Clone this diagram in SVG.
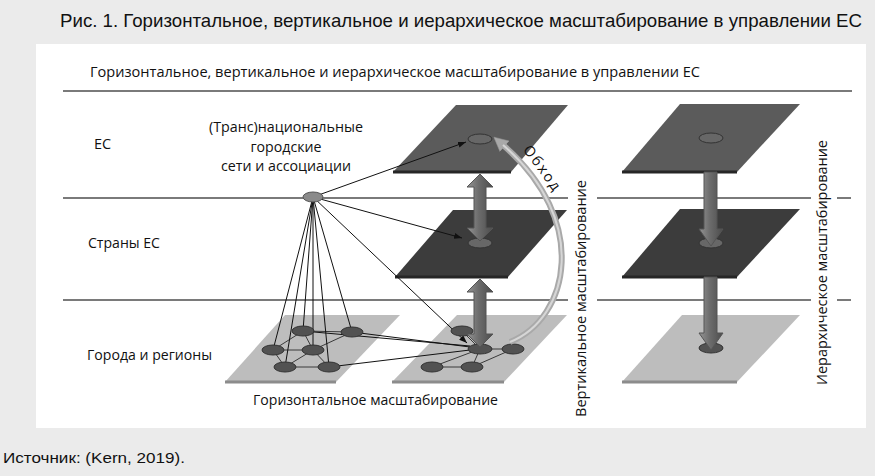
<svg xmlns="http://www.w3.org/2000/svg" width="875" height="476" viewBox="0 0 875 476">
<defs>
<style>
.t{font-family:"Open Sans","Liberation Sans",sans-serif;font-size:14.5px;fill:#111}
.cap{font-family:"Liberation Sans",Arial,sans-serif;fill:#111}
.hl{stroke:#7a7a7a;stroke-width:2;fill:none}
.pTop{fill:#5b5b5b}
.pMid{fill:#3c3c3c}
.pLow{fill:#bdbdbd}
.eDark{stroke:#262626;stroke-width:3;fill:none}
.eLow{stroke:#8c8c8c;stroke-width:3;fill:none}
.nd{fill:#525252;stroke:#333;stroke-width:1}
.ndT{fill:#676767;stroke:#333;stroke-width:1}
.ln{stroke:#111;stroke-width:1;fill:none}
.net{stroke:#3a3a3a;stroke-width:1;fill:none}
.big{fill:url(#ag);stroke:#555;stroke-width:1}
</style>
<linearGradient id="ag" x1="0" y1="0" x2="1" y2="0">
<stop offset="0" stop-color="#959595"/>
<stop offset="0.45" stop-color="#6c6c6c"/>
<stop offset="1" stop-color="#4c4c4c"/>
</linearGradient>
<marker id="sa" markerUnits="userSpaceOnUse" markerWidth="9" markerHeight="7" refX="8" refY="3" orient="auto">
<path d="M0,0 L8,3 L0,6 z" fill="#111"/>
</marker>
<marker id="ca" markerUnits="userSpaceOnUse" markerWidth="16" markerHeight="16" refX="2" refY="8" orient="auto">
<path d="M0,1 L14,8 L0,15 z" fill="#a9a9a9" stroke="#999" stroke-width="0.5"/>
</marker>
</defs>

<rect x="0" y="0" width="875" height="476" fill="#ebebeb"/>
<rect x="36" y="44" width="830" height="384" fill="#ffffff"/>

<text class="cap" x="60" y="27" font-size="19" textLength="802" lengthAdjust="spacingAndGlyphs">Рис. 1. Горизонтальное, вертикальное и иерархическое масштабирование в управлении ЕС</text>
<text class="cap" x="3" y="463" font-size="15" textLength="182" lengthAdjust="spacingAndGlyphs">Источник: (Kern, 2019).</text>

<g id="levels">
<line class="hl" x1="63" y1="91" x2="852" y2="91"/>
<line class="hl" x1="63" y1="198" x2="568" y2="198"/>
<line class="hl" x1="597" y1="198" x2="811" y2="198"/>
<line class="hl" x1="837" y1="198" x2="851" y2="198"/>
<line class="hl" x1="63" y1="300" x2="568" y2="300"/>
<line class="hl" x1="597" y1="300" x2="811" y2="300"/>
<line class="hl" x1="837" y1="300" x2="851" y2="300"/>
</g>

<g id="plane-left-cities">
<polygon class="pLow" points="285,315 400,315 336,382 225,382"/>
<line class="eLow" x1="225" y1="382" x2="336" y2="382"/>
</g>
<g id="plane-mid-eu">
<polygon class="pTop" points="456,105 568,105 511,172 393,172"/>
<line class="eDark" x1="393" y1="172" x2="511" y2="172"/>
</g>
<g id="plane-mid-countries">
<polygon class="pMid" points="453,210 567,210 508,277 395,277"/>
<line class="eDark" x1="395" y1="277" x2="508" y2="277"/>
</g>
<g id="plane-mid-cities">
<polygon class="pLow" points="457,315 567,315 504,382 392,382"/>
<line class="eLow" x1="392" y1="382" x2="504" y2="382"/>
</g>
<g id="plane-right-eu">
<polygon class="pTop" points="680,104 800,104 737,172 622,172"/>
<line class="eDark" x1="622" y1="172" x2="737" y2="172"/>
</g>
<g id="plane-right-countries">
<polygon class="pMid" points="680,209 800,209 737,277 622,277"/>
<line class="eDark" x1="622" y1="277" x2="737" y2="277"/>
</g>
<g id="plane-right-cities">
<polygon class="pLow" points="682,315 800,315 737,382 622,382"/>
<line class="eLow" x1="622" y1="382" x2="737" y2="382"/>
</g>

<g id="connectors">
<path class="net" d="M303,331 L352,332 M303,331 L273,350 M303,331 L313,350 M273,350 L313,350 M273,350 L285,367 M285,367 L313,350 M313,350 L329,367 M285,367 L329,367 M313,350 L352,332"/>
<path class="net" d="M462,331 L480,349 M480,349 L513,349 M480,349 L432,367 M480,349 L472,367 M432,367 L472,367 M472,367 L513,349"/>
<path class="ln" d="M303,331 L470,346 M352,332 L470,347 M329,367 L470,350"/>
<path class="ln" d="M313,197 L273,350 M313,197 L285,367 M313,197 L303,331 M313,197 L313,350 M313,197 L329,367 M313,197 L352,332"/>
<line class="ln" x1="313" y1="197" x2="466" y2="142" marker-end="url(#sa)"/>
<line class="ln" x1="313" y1="197" x2="462" y2="238" marker-end="url(#sa)"/>
<line class="ln" x1="313" y1="197" x2="467" y2="343" marker-end="url(#sa)"/>
</g>

<g id="nodes-left">
<ellipse class="nd" cx="303" cy="331" rx="11" ry="5"/>
<ellipse class="nd" cx="352" cy="332" rx="11" ry="5"/>
<ellipse class="nd" cx="273" cy="350" rx="11" ry="5"/>
<ellipse class="nd" cx="313" cy="350" rx="11" ry="5"/>
<ellipse class="nd" cx="285" cy="367" rx="11" ry="5"/>
<ellipse class="nd" cx="329" cy="367" rx="11" ry="5"/>
</g>
<g id="nodes-mid">
<ellipse class="ndT" cx="480" cy="139" rx="12" ry="5"/>
<ellipse class="ndT" cx="480" cy="243" rx="12" ry="5"/>
<ellipse class="nd" cx="462" cy="331" rx="11" ry="5"/>
<ellipse class="nd" cx="480" cy="349" rx="12" ry="5"/>
<ellipse class="nd" cx="513" cy="349" rx="11" ry="5"/>
<ellipse class="nd" cx="432" cy="367" rx="11" ry="5"/>
<ellipse class="nd" cx="472" cy="367" rx="11" ry="5"/>
</g>
<g id="nodes-right">
<ellipse class="ndT" cx="711" cy="138" rx="12" ry="5"/>
<ellipse class="ndT" cx="711" cy="243" rx="12" ry="5"/>
<ellipse class="nd" cx="711" cy="348" rx="12" ry="5"/>
</g>
<g id="hub">
<ellipse cx="313" cy="197" rx="10" ry="5" fill="#8a8a8a" stroke="#555" stroke-width="1"/>
</g>

<g id="vertical-arrows">
<polygon class="big" points="480,174 493,187 486,187 486,228 493,228 480,241 467,228 474,228 474,187 467,187"/>
<polygon class="big" points="480,279 493,292 486,292 486,334 493,334 480,347 467,334 474,334 474,292 467,292"/>
</g>
<g id="hierarchy-arrows">
<polygon class="big" points="704,172 717,172 717,229 723,229 711,246 699,229 704,229"/>
<polygon class="big" points="704,277 717,277 717,333 723,333 711,350 699,333 704,333"/>
</g>

<g id="bypass">
<path d="M510,342 C570,318 590,220 503,145" fill="none" stroke="#a9a9a9" stroke-width="6" marker-end="url(#ca)"/>
<path d="M510,342 C570,318 590,220 503,145" fill="none" stroke="#d6d6d6" stroke-width="2"/>
<path id="obp" d="M519,145 L562,203" fill="none"/>
<text class="t" font-size="15"><textPath href="#obp" startOffset="6" textLength="52" lengthAdjust="spacing">Обход</textPath></text>
</g>

<g id="labels">
<text class="t" x="90" y="77" textLength="610" lengthAdjust="spacingAndGlyphs">Горизонтальное, вертикальное и иерархическое масштабирование в управлении ЕС</text>
<text class="t" x="94" y="149">ЕС</text>
<text class="t" x="88" y="248" textLength="72" lengthAdjust="spacingAndGlyphs">Страны ЕС</text>
<text class="t" x="87" y="360" textLength="125" lengthAdjust="spacingAndGlyphs">Города и регионы</text>
<text class="t" x="286" y="132" text-anchor="middle" textLength="154" lengthAdjust="spacingAndGlyphs">(Транс)национальные</text>
<text class="t" x="286" y="152" text-anchor="middle" textLength="71" lengthAdjust="spacingAndGlyphs">городские</text>
<text class="t" x="286" y="171" text-anchor="middle" textLength="130" lengthAdjust="spacingAndGlyphs">сети и ассоциации</text>
<text class="t" x="253" y="405" textLength="245" lengthAdjust="spacingAndGlyphs">Горизонтальное масштабирование</text>
<text class="t" transform="translate(586,417) rotate(-90)" textLength="237" lengthAdjust="spacingAndGlyphs">Вертикальное масштабирование</text>
<text class="t" transform="translate(827,385) rotate(-90)" textLength="245" lengthAdjust="spacingAndGlyphs">Иерархическое масштабирование</text>
</g>
</svg>
